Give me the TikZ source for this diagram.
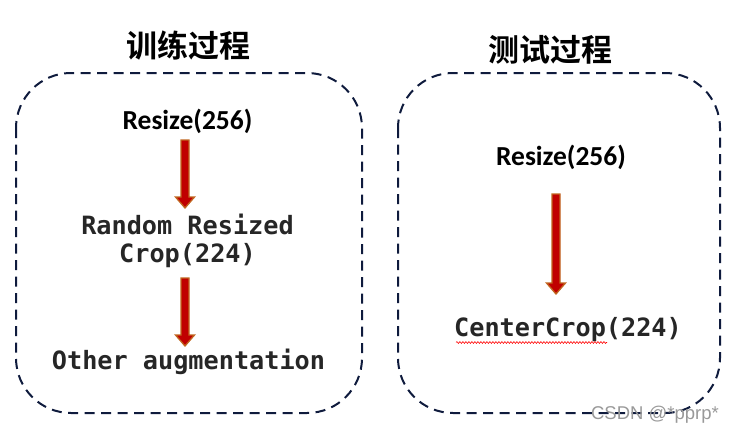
\documentclass[tikz,border=0pt]{standalone}
\usepackage{fontspec}
\setmainfont{Carlito}
\newfontfamily\cjkbold{Noto Sans CJK SC Bold}
\newfontfamily\codefont{DejaVu Sans Mono}
\newfontfamily\wmfont{Liberation Sans}
\usetikzlibrary{calc,decorations.pathmorphing}
\definecolor{framecol}{HTML}{0F1B3D}
\definecolor{arrowfill}{HTML}{C00000}
\definecolor{arrowline}{HTML}{C0651F}
\definecolor{codecol}{HTML}{262626}
\tikzset{
  framebox/.style={draw=framecol, line width=2pt, dash pattern=on 10pt off 6.5pt, rounded corners=55pt},
  titletext/.style={font=\cjkbold\fontsize{31}{34}\selectfont, inner sep=0pt},
  stepsans/.style={font=\bfseries\fontsize{27.5}{30}\selectfont, inner sep=0pt},
  stepcode/.style={font=\codefont\bfseries\fontsize{25.2}{32}\selectfont, text=codecol, inner sep=0pt, align=center},
  blockarrowstyle/.style={fill=arrowfill, draw=arrowline, line width=1.3pt, line join=miter},
}
\newcommand\blockarrow[2]{%
  \path[blockarrowstyle] let \p1=(#1), \p2=(#2) in
    (\x1-4pt,\y1) -- (\x1+4pt,\y1) -- (\x1+4pt,\y2+11pt) -- (\x1+9.5pt,\y2+11pt) --
    (\x1,\y2) -- (\x1-9.5pt,\y2+11pt) -- (\x1-4pt,\y2+11pt) -- cycle;}
\begin{document}
\begin{tikzpicture}[x=1pt,y=-1pt]
\useasboundingbox (0,0) rectangle (738,436);
% frames
\draw[framebox] (16,73) rectangle (362,413);
\draw[framebox] (398,73) rectangle (720,413);
% titles
\node[titletext] (t1) at (188.5,46) {训练过程};
\node[titletext] (t2) at (550,50) {测试过程};
% left column
\node[stepsans] (r1) at (187.5,121) {Resize(256)};
\node[stepcode] (rc1) at (187.5,224) {Random Resized};
\node[stepcode] (rc2) at (187.5,256) {Crop(224)};
\node[stepcode] (oa) at (188.5,362) {Other augmentation};
\coordinate (a1s) at (185,140);
\coordinate (a1e) at (185,208);
\coordinate (a2s) at (185,278);
\coordinate (a2e) at (185,346);
\blockarrow{a1s}{a1e}
\blockarrow{a2s}{a2e}
% right column
\node[stepsans] (r2) at (561,157) {Resize(256)};
\node[stepcode] (cc) at (568,330) {CenterCrop(224)};
\coordinate (a3s) at (556,194);
\coordinate (a3e) at (556,294);
\blockarrow{a3s}{a3e}
\coordinate (w1) at (456,342.5);
\coordinate (w2) at (607,342.5);
\draw[red, line width=0.6pt, decorate, decoration={snake, amplitude=0.9pt, segment length=3pt}] (w1) -- (w2);
% watermark
\node[font=\wmfont\fontsize{18.5}{20}\selectfont, text=gray!80, inner sep=0pt] (wm) at (655,415) {CSDN @*pprp*};
\end{tikzpicture}
\end{document}
